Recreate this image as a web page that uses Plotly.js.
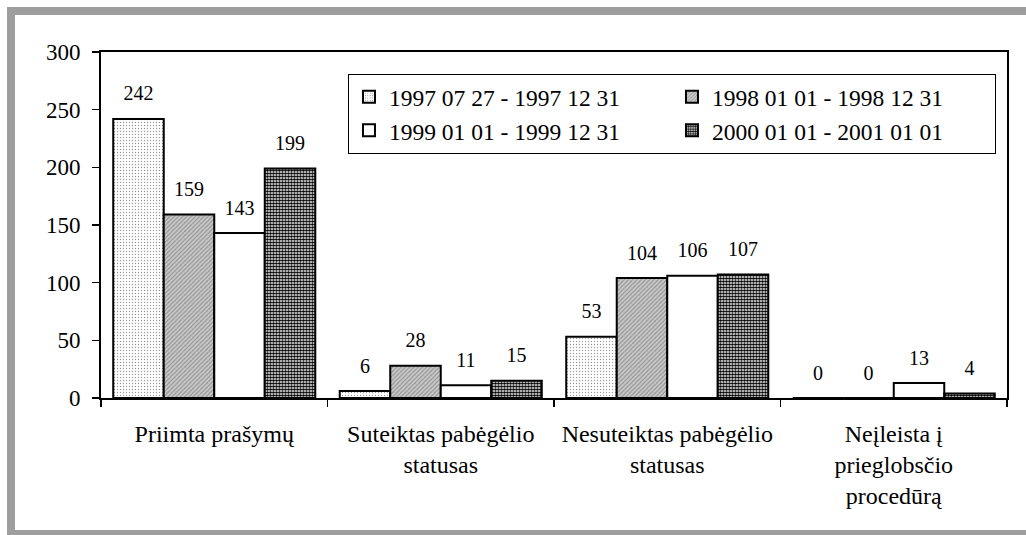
<!DOCTYPE html>
<html>
<head>
<meta charset="utf-8">
<script src="https://cdn.plot.ly/plotly-3.0.1.min.js"></script>
<style>html,body{margin:0;padding:0;background:#fff;}#chart{width:1026px;height:535px;}</style>
</head>
<body>
<div id="chart"></div>
<script>
const categories = ["Priimta prašymų", "Suteiktas pabėgėlio<br>statusas", "Nesuteiktas pabėgėlio<br>statusas", "Neįleista į<br>prieglobsčio<br>procedūrą"];
const seriesNames = ["1997 07 27 - 1997 12 31", "1998 01 01 - 1998 12 31", "1999 01 01 - 1999 12 31", "2000 01 01 - 2001 01 01"];
const s1997 = [242, 6, 53, 0];
const s1998 = [159, 28, 104, 0];
const s1999 = [143, 11, 106, 13];
const s2000 = [199, 15, 107, 4];
const yTicks = [0, 50, 100, 150, 200, 250, 300];

const FONT = 'Liberation Serif';
const patterns = [
  {shape: ".", fgcolor: "#9a9a9a", bgcolor: "#ffffff", size: 3, solidity: 0.15},
  {shape: "/", fgcolor: "#8e8e8e", bgcolor: "#c9c9c9", size: 3, solidity: 0.35},
  {shape: "", fgcolor: "#ffffff", bgcolor: "#ffffff"},
  {shape: ".", fgcolor: "#000000", bgcolor: "#ffffff", size: 3, solidity: 0.65}
];
const values = [s1997, s1998, s1999, s2000];

const traces = [];
values.forEach((v, i) => {
  traces.push({
    type: "bar", x: categories, y: v, name: seriesNames[i],
    marker: {color: "#ffffff", line: {color: "#000", width: 2}, pattern: patterns[i]},
    hoverinfo: "x+y+name"
  });
});
values.forEach((v, i) => {
  traces.push({
    type: "scatter", mode: "markers+text", x: categories, y: v,
    text: v.map(String), textposition: "top center",
    textfont: {family: FONT, size: 20, color: "#000"},
    marker: {size: 20, opacity: 0},
    showlegend: false, hoverinfo: "skip", cliponaxis: false
  });
});

const layout = {
  width: 1026, height: 535,
  margin: {l: 101, r: 19, t: 52, b: 137, autoexpand: false},
  paper_bgcolor: "#fff", plot_bgcolor: "#fff",
  font: {family: FONT, color: "#000", size: 24},
  barmode: "group", bargap: 0.108, bargroupgap: 0,
  scattermode: "group", scattergap: 0.108,
  showlegend: true,
  legend: {
    orientation: "h", x: 0.2726, xanchor: "left", y: 0.9364, yanchor: "top",
    entrywidth: 278, entrywidthmode: "pixels", itemwidth: 30,
    bordercolor: "#000", borderwidth: 1, bgcolor: "#fff",
    font: {family: FONT, size: 23.5, color: "#000"}, traceorder: "normal"
  },
  xaxis: {
    type: "category", showline: true, linecolor: "#000", linewidth: 2, mirror: true,
    ticks: "outside", tickson: "boundaries", ticklen: 7, tickwidth: 1.5, tickcolor: "#000",
    ticklabelstandoff: 13,
    showgrid: false, zeroline: false, tickfont: {family: FONT, size: 24, color: "#000"},
    fixedrange: true
  },
  yaxis: {
    range: [0, 300], tickvals: yTicks, showline: true, linecolor: "#000", linewidth: 2, mirror: true,
    ticks: "outside", ticklen: 7, tickwidth: 1.5, tickcolor: "#000",
    ticklabelstandoff: 7,
    showgrid: false, zeroline: false, tickfont: {family: FONT, size: 23, color: "#000"},
    fixedrange: true
  },
  shapes: [{
    type: "rect", xref: "paper", yref: "paper",
    x0: -0.09934, x1: 1.06, y0: -0.39306, y1: 1.11850,
    line: {color: "#9e9e9e", width: 8}, fillcolor: "rgba(0,0,0,0)", layer: "below"
  }]
};

Plotly.newPlot("chart", traces, layout, {staticPlot: true, displayModeBar: false});
</script>
</body>
</html>
